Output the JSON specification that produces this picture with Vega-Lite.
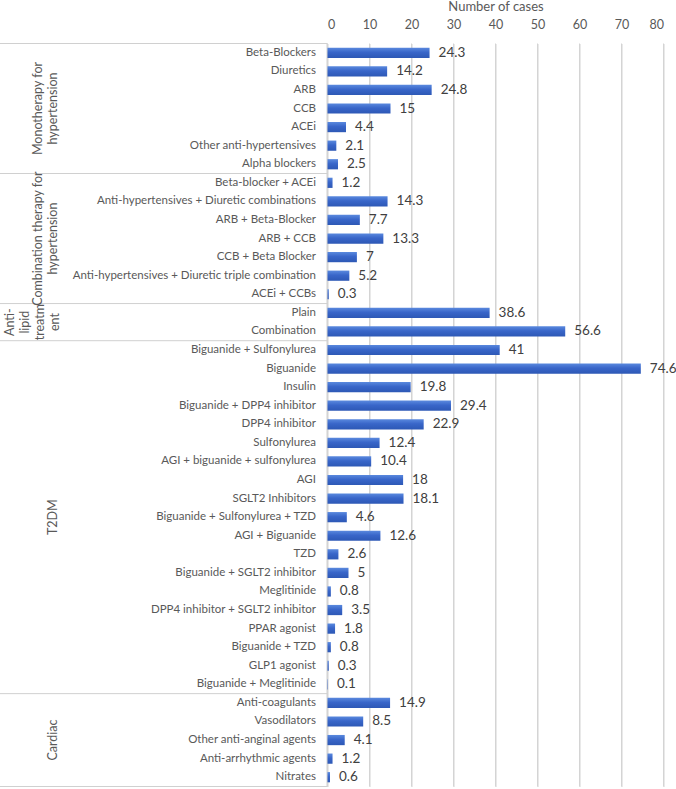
{
  "$schema": "https://vega.github.io/schema/vega-lite/v6.json",
  "width": 336,
  "height": 743,
  "autosize": "none",
  "padding": {"left": 327.5, "top": 43.5, "right": 12.5, "bottom": 2.5},
  "background": "white",
  "config": {
    "font": "Lato",
    "view": {"strokeWidth": 0}
  },
  "datasets": {
    "gridticks": [{"tick": 0}, {"tick": 10}, {"tick": 20}, {"tick": 30}, {"tick": 40}, {"tick": 50}, {"tick": 60}, {"tick": 70}, {"tick": 80}]
  },
  "data": {"values": [
    {"group": "Monotherapy for\nhypertension", "drug": "Beta-Blockers", "cases": 24.3},
    {"group": "Monotherapy for\nhypertension", "drug": "Diuretics", "cases": 14.2},
    {"group": "Monotherapy for\nhypertension", "drug": "ARB", "cases": 24.8},
    {"group": "Monotherapy for\nhypertension", "drug": "CCB", "cases": 15},
    {"group": "Monotherapy for\nhypertension", "drug": "ACEi", "cases": 4.4},
    {"group": "Monotherapy for\nhypertension", "drug": "Other anti-hypertensives", "cases": 2.1},
    {"group": "Monotherapy for\nhypertension", "drug": "Alpha blockers", "cases": 2.5},
    {"group": "Combination therapy for\nhypertension", "drug": "Beta-blocker + ACEi", "cases": 1.2},
    {"group": "Combination therapy for\nhypertension", "drug": "Anti-hypertensives + Diuretic combinations", "cases": 14.3},
    {"group": "Combination therapy for\nhypertension", "drug": "ARB + Beta-Blocker", "cases": 7.7},
    {"group": "Combination therapy for\nhypertension", "drug": "ARB + CCB", "cases": 13.3},
    {"group": "Combination therapy for\nhypertension", "drug": "CCB + Beta Blocker", "cases": 7},
    {"group": "Combination therapy for\nhypertension", "drug": "Anti-hypertensives + Diuretic triple combination", "cases": 5.2},
    {"group": "Combination therapy for\nhypertension", "drug": "ACEi + CCBs", "cases": 0.3},
    {"group": "Anti-\nlipid\ntreatm\nent", "drug": "Plain", "cases": 38.6},
    {"group": "Anti-\nlipid\ntreatm\nent", "drug": "Combination", "cases": 56.6},
    {"group": "T2DM", "drug": "Biguanide + Sulfonylurea", "cases": 41},
    {"group": "T2DM", "drug": "Biguanide", "cases": 74.6},
    {"group": "T2DM", "drug": "Insulin", "cases": 19.8},
    {"group": "T2DM", "drug": "Biguanide + DPP4 inhibitor", "cases": 29.4},
    {"group": "T2DM", "drug": "DPP4 inhibitor", "cases": 22.9},
    {"group": "T2DM", "drug": "Sulfonylurea", "cases": 12.4},
    {"group": "T2DM", "drug": "AGI + biguanide + sulfonylurea", "cases": 10.4},
    {"group": "T2DM", "drug": "AGI", "cases": 18},
    {"group": "T2DM", "drug": "SGLT2 Inhibitors", "cases": 18.1},
    {"group": "T2DM", "drug": "Biguanide + Sulfonylurea + TZD", "cases": 4.6},
    {"group": "T2DM", "drug": "AGI + Biguanide", "cases": 12.6},
    {"group": "T2DM", "drug": "TZD", "cases": 2.6},
    {"group": "T2DM", "drug": "Biguanide + SGLT2 inhibitor", "cases": 5},
    {"group": "T2DM", "drug": "Meglitinide ", "cases": 0.8},
    {"group": "T2DM", "drug": "DPP4 inhibitor + SGLT2 inhibitor", "cases": 3.5},
    {"group": "T2DM", "drug": "PPAR agonist", "cases": 1.8},
    {"group": "T2DM", "drug": "Biguanide + TZD", "cases": 0.8},
    {"group": "T2DM", "drug": "GLP1 agonist", "cases": 0.3},
    {"group": "T2DM", "drug": "Biguanide + Meglitinide", "cases": 0.1},
    {"group": "Cardiac", "drug": "Anti-coagulants", "cases": 14.9},
    {"group": "Cardiac", "drug": "Vasodilators", "cases": 8.5},
    {"group": "Cardiac", "drug": "Other anti-anginal agents", "cases": 4.1},
    {"group": "Cardiac", "drug": "Anti-arrhythmic agents", "cases": 1.2},
    {"group": "Cardiac", "drug": "Nitrates", "cases": 0.6}
  ]},
  "transform": [
    {"window": [{"op": "row_number", "as": "idx"}, {"op": "count", "as": "total"}], "frame": [null, null]},
    {"window": [{"op": "row_number", "as": "r"}, {"op": "count", "as": "n"}], "groupby": ["group"], "frame": [null, null]}
  ],
  "layer": [
    {
      "data": {"name": "gridticks"},
      "mark": {"type": "rule", "color": "#d4d4d4", "strokeWidth": 1},
      "encoding": {
        "x": {"field": "tick", "type": "quantitative"}
      }
    },
    {
      "mark": {
        "type": "bar",
        "height": {"band": 0.55},
        "color": {
          "gradient": "linear", "x1": 0, "y1": 0, "x2": 0, "y2": 1,
          "stops": [
            {"offset": 0, "color": "#5a89de"},
            {"offset": 0.45, "color": "#3966c9"},
            {"offset": 1, "color": "#2d58b5"}
          ]
        }
      },
      "encoding": {
        "y": {
          "field": "drug", "type": "nominal", "sort": null,
          "scale": {"paddingInner": 0, "paddingOuter": 0},
          "axis": {
            "title": null, "orient": "left", "ticks": false, "domain": true,
            "domainColor": "#d0d0d0", "offset": 1, "labelPadding": 11,
            "labelFontSize": 11.5, "labelColor": "#595959", "labelLimit": 400,
            "labelFont": "Lato", "grid": false
          }
        },
        "x": {
          "field": "cases", "type": "quantitative",
          "scale": {"domain": [0, 80], "nice": false},
          "axis": {
            "orient": "top", "title": "Number of cases", "values": [0, 10, 20, 30, 40, 50, 60, 70, 80],
            "grid": true, "gridColor": "#d4d4d4", "gridWidth": 1, "domain": false, "ticks": false,
            "labelFontSize": 12.5, "labelColor": "#595959", "labelPadding": 12,
            "titleFontSize": 13, "titleFontWeight": "normal", "titleColor": "#595959", "titlePadding": 5
          }
        }
      }
    },
    {
      "mark": {"type": "text", "align": "left", "baseline": "middle", "dx": 9, "fontSize": 13.5, "color": "#404040"},
      "encoding": {
        "y": {"field": "drug", "type": "nominal", "sort": null},
        "x": {"field": "cases", "type": "quantitative"},
        "text": {"field": "cases", "type": "quantitative"}
      }
    },
    {
      "transform": [{"filter": "datum.r == 1"}],
      "mark": {"type": "rule", "color": "#d0d0d0", "strokeWidth": 1},
      "encoding": {
        "y": {"field": "drug", "type": "nominal", "sort": null, "bandPosition": 0},
        "x": {"datum": -78, "type": "quantitative"},
        "x2": {"datum": 0}
      }
    },
    {
      "transform": [{"filter": "datum.idx == datum.total"}],
      "mark": {"type": "rule", "color": "#d0d0d0", "strokeWidth": 1},
      "encoding": {
        "y": {"field": "drug", "type": "nominal", "sort": null, "bandPosition": 1},
        "x": {"datum": -78, "type": "quantitative"},
        "x2": {"datum": 0}
      }
    },
    {
      "transform": [{"filter": "datum.r == (datum.n + 1) / 2 && indexof(datum.group, '\\n') < 0"}],
      "mark": {"type": "text", "angle": 270, "align": "center", "baseline": "middle", "lineBreak": "\n", "lineHeight": 15, "fontSize": 12.5, "color": "#595959"},
      "encoding": {
        "y": {"field": "drug", "type": "nominal", "sort": null},
        "x": {"datum": -65.4, "type": "quantitative"},
        "text": {"field": "group"}
      }
    },
    {
      "transform": [{"filter": "datum.r == (datum.n + 1) / 2 && (datum.group == 'Monotherapy for\\nhypertension' || datum.group == 'Combination therapy for\\nhypertension')"}],
      "mark": {"type": "text", "angle": 270, "align": "center", "baseline": "middle", "lineBreak": "\n", "lineHeight": 15, "fontSize": 12.5, "color": "#595959"},
      "encoding": {
        "y": {"field": "drug", "type": "nominal", "sort": null},
        "x": {"datum": -68.9, "type": "quantitative"},
        "text": {"field": "group"}
      }
    },
    {
      "transform": [{"filter": "datum.r == 2 && datum.group == 'Anti-\\nlipid\\ntreatm\\nent'"}],
      "mark": {"type": "text", "angle": 270, "align": "center", "baseline": "middle", "lineBreak": "\n", "lineHeight": 15, "fontSize": 12.5, "color": "#595959"},
      "encoding": {
        "y": {"field": "drug", "type": "nominal", "sort": null, "bandPosition": 0},
        "x": {"datum": -75.6, "type": "quantitative"},
        "text": {"field": "group"}
      }
    }
  ]
}
